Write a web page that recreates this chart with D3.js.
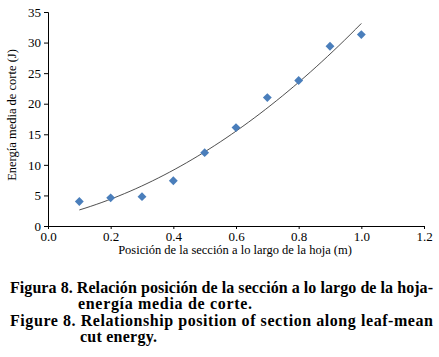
<!DOCTYPE html>
<html>
<head>
<meta charset="utf-8">
<script src="https://cdn.jsdelivr.net/npm/d3@7"></script>
<style>
  body { margin: 0; background: #fff; }
  svg text { font-family: "Times New Roman", Times, Tinos, "Liberation Serif", serif; fill: #000; }
</style>
</head>
<body>
<svg id="chart" width="439" height="357"></svg>
<script>
// data
const positions = [0.1, 0.2, 0.3, 0.4, 0.5, 0.6, 0.7, 0.8, 0.9, 1.0];
const energies = [4.0, 4.6, 4.8, 7.4, 12.0, 16.1, 21.0, 23.8, 29.4, 31.3];
const xTicks = [0.0, 0.2, 0.4, 0.6, 0.8, 1.0, 1.2];
const yTicks = [0, 5, 10, 15, 20, 25, 30, 35];
const captionLines = [
  "Figura 8. Relación posición de la sección a lo largo de la hoja-",
  "energía media de corte.",
  "Figure 8. Relationship position of section along leaf-mean",
  "cut energy."
];

const serif = '"Times New Roman", Times, Tinos, "Liberation Serif", serif';
const svg = d3.select("#chart");

const x = d3.scaleLinear().domain([0, 1.2]).range([48, 424]);
const y = d3.scaleLinear().domain([0, 35]).range([226, 12]);

// y axis
svg.append("g")
  .attr("transform", "translate(48,0)")
  .call(d3.axisLeft(y).tickValues(yTicks).tickSize(4).tickPadding(3).tickFormat(d3.format("d")))
  .call(g => g.attr("font-family", serif))
  .call(g => g.selectAll(".tick text").style("font-size", "13px").style("font-family", serif));

// x axis
svg.append("g")
  .attr("transform", "translate(0,226)")
  .call(d3.axisBottom(x).tickValues(xTicks).tickSize(3).tickPadding(3).tickFormat(d3.format(".1f")))
  .call(g => g.attr("font-family", serif))
  .call(g => g.selectAll(".tick text").style("font-size", "13px").style("font-family", serif));

// axis titles
svg.append("text")
  .attr("x", 235).attr("y", 254)
  .attr("text-anchor", "middle")
  .style("font-size", "12.5px")
  .text("Posición de la sección a lo largo de la hoja (m)");

svg.append("text")
  .attr("transform", "translate(16,115) rotate(-90)")
  .attr("text-anchor", "middle")
  .style("font-size", "12.5px")
  .text("Energía media de corte (J)");

// polynomial (order 2) trend line, least squares on the points
function quadFit(xs, ys) {
  let s = [0, 0, 0, 0, 0], t = [0, 0, 0];
  xs.forEach((xv, i) => {
    for (let k = 0; k < 5; k++) s[k] += Math.pow(xv, k);
    for (let k = 0; k < 3; k++) t[k] += Math.pow(xv, k) * ys[i];
  });
  const A = [[s[0], s[1], s[2], t[0]], [s[1], s[2], s[3], t[1]], [s[2], s[3], s[4], t[2]]];
  for (let i = 0; i < 3; i++) {
    for (let j = i + 1; j < 3; j++) {
      const f = A[j][i] / A[i][i];
      for (let k = i; k < 4; k++) A[j][k] -= f * A[i][k];
    }
  }
  const c = [0, 0, 0];
  for (let i = 2; i >= 0; i--) {
    let v = A[i][3];
    for (let k = i + 1; k < 3; k++) v -= A[i][k] * c[k];
    c[i] = v / A[i][i];
  }
  return xv => c[0] + c[1] * xv + c[2] * xv * xv;
}
const trend = quadFit(positions, energies);
const trendPts = d3.range(0, 51).map(i => {
  const xv = positions[0] + (positions[positions.length - 1] - positions[0]) * i / 50;
  return [xv, trend(xv)];
});
svg.append("path")
  .datum(trendPts)
  .attr("fill", "none")
  .attr("stroke", "#222")
  .attr("stroke-width", 0.8)
  .attr("d", d3.line().x(d => x(d[0])).y(d => y(d[1])));

// diamond markers
svg.selectAll("path.pt")
  .data(positions)
  .join("path")
    .attr("class", "pt")
    .attr("d", d3.symbol().type(d3.symbolDiamond2).size(50))
    .attr("transform", (d, i) => "translate(" + x(d) + "," + y(energies[i]) + ")")
    .attr("fill", "#4a7ebb");

// caption
const capY = [293, 309, 326, 342];
const capX = [10, 78, 10, 80];
const capW = [423, 174, 423, 77];
captionLines.forEach((line, i) => {
  svg.append("text")
    .attr("x", capX[i]).attr("y", capY[i])
    .attr("textLength", capW[i]).attr("lengthAdjust", "spacing")
    .style("font-size", "16px")
    .style("font-weight", "bold")
    .text(line);
});
</script>
</body>
</html>
